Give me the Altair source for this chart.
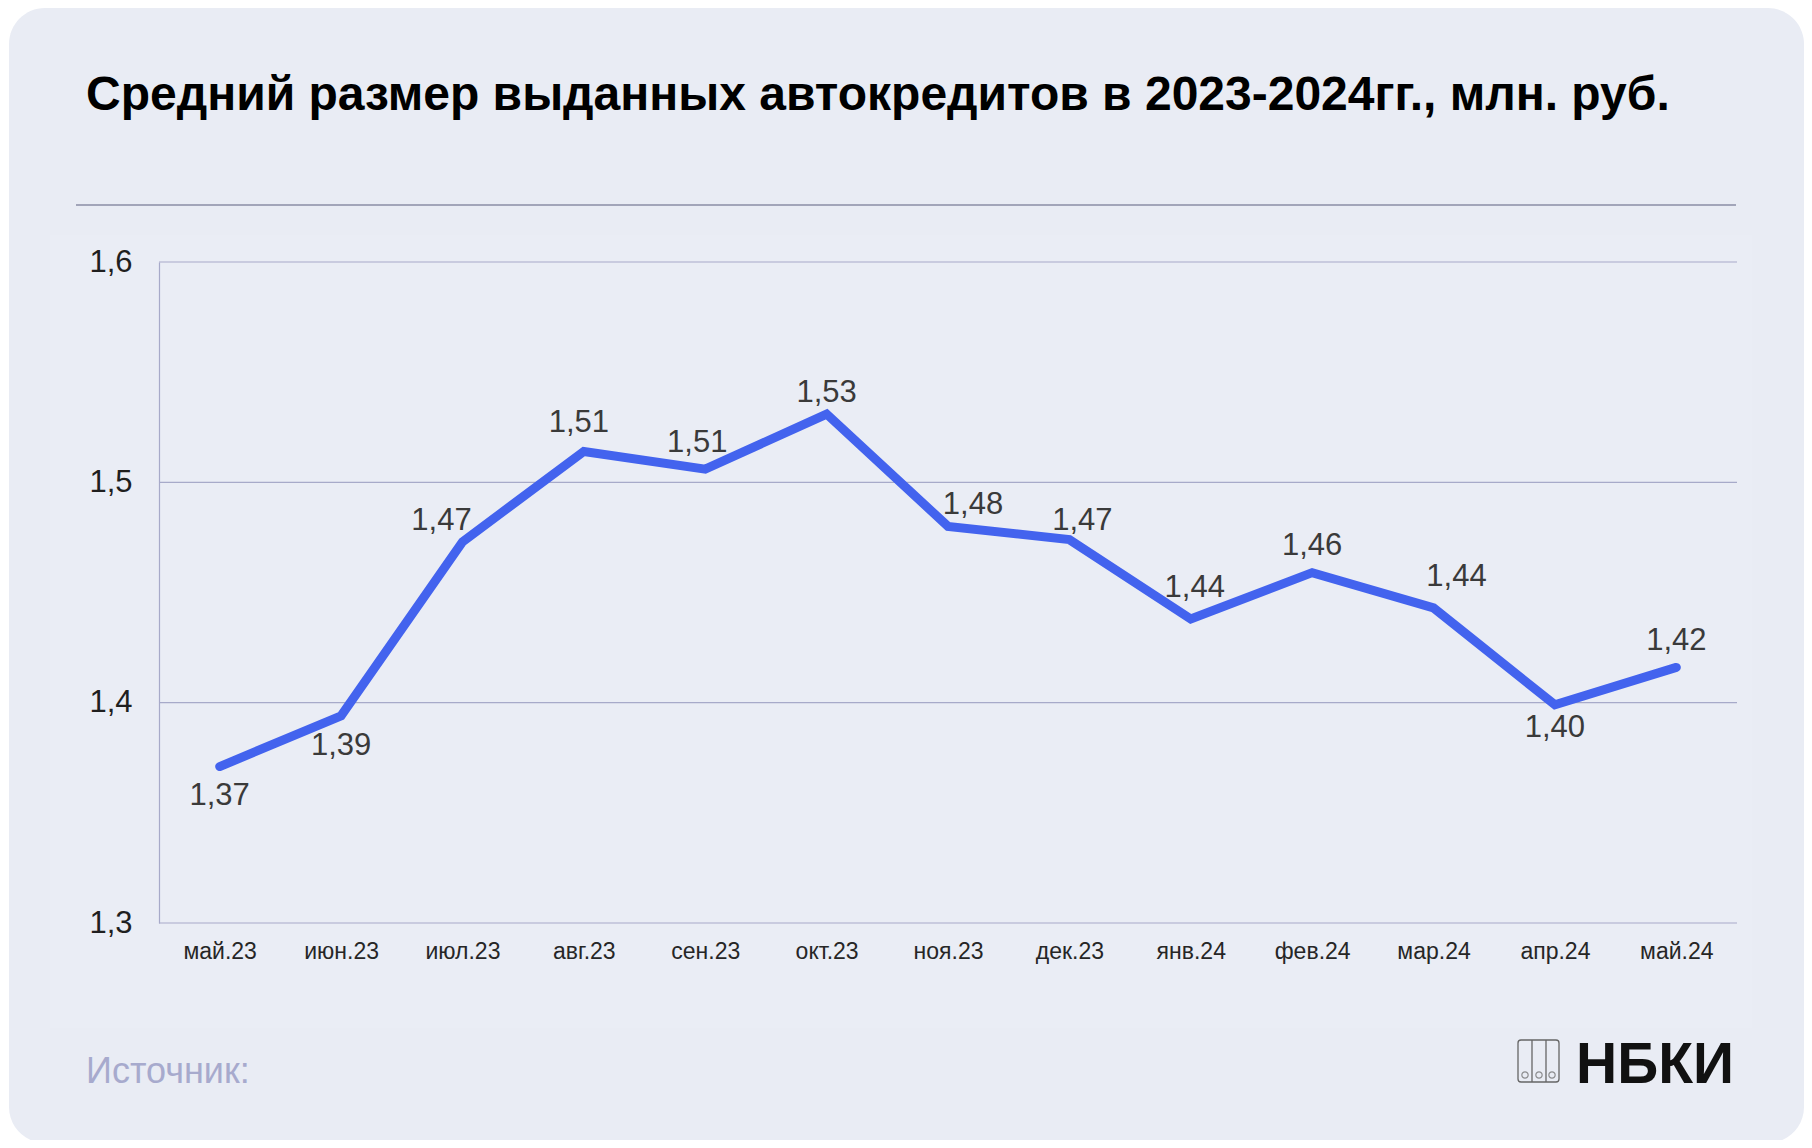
import altair as alt
import pandas as pd

# ---- data ----
months = ["май.23", "июн.23", "июл.23", "авг.23", "сен.23", "окт.23", "ноя.23",
          "дек.23", "янв.24", "фев.24", "мар.24", "апр.24", "май.24"]
values = [1.371, 1.394, 1.473, 1.514, 1.506, 1.531, 1.480,
          1.474, 1.438, 1.459, 1.443, 1.399, 1.416]
y_ticks = [1.3, 1.4, 1.5, 1.6]

# ---- label placement (style): pixel nudges of each value label from its point ----
label_dx = [0, 0, -21, -5, -8, 0, 25, 13, 4, 0, 23, 0, 0]
label_dy = [29, 30, -21, -28, -26, -21, -21, -19, -31, -27, -31, 23, -26]

title_text = "Средний размер выданных автокредитов в 2023-2024гг., млн. руб."
source_text = "Источник:"
brand_text = "НБКИ"

df = pd.DataFrame({"month": months, "value": values,
                   "ldx": label_dx, "ldy": label_dy})
df["label"] = [f"{v:.2f}".replace(".", ",") for v in values]
grid_df = pd.DataFrame({"tick": y_ticks})

one = pd.DataFrame({"k": [0]})

FONT = "Liberation Sans"
W, H = 1578, 661
CARD = "#e9ecf4"
PANEL = "#eaedf5"
GRID = "#a7aac9"
LINE = "#4363ee"

y_scale = alt.Scale(domain=[1.3, 1.6], nice=False, zero=False)

x_enc = alt.X(
    "month:N", sort=months,
    scale=alt.Scale(type="point", padding=0.5),
    axis=alt.Axis(title=None, labelAngle=0, domain=False, ticks=False, grid=False,
                  labelFont=FONT, labelFontSize=23, labelColor="#262626",
                  labelPadding=17, zindex=2),
)
y_enc = alt.Y(
    "value:Q", scale=y_scale,
    axis=alt.Axis(title=None, values=y_ticks, ticks=False, domain=True,
                  domainColor=GRID, domainWidth=1.2, grid=False,
                  labelFont=FONT, labelFontSize=31,
                  labelColor="#1f1f1f", labelPadding=27, zindex=2,
                  labelExpr="replace(format(datum.value, '.1f'), '.', ',')"),
)

card = alt.Chart(one).mark_rect(color=CARD, cornerRadius=36).encode(
    x=alt.value(-150), x2=alt.value(1645), y=alt.value(-254), y2=alt.value(881))
panel = alt.Chart(one).mark_rect(color=PANEL).encode(
    x=alt.value(-109), x2=alt.value(1593), y=alt.value(-27), y2=alt.value(766))

title = alt.Chart(one).mark_text(
    text=title_text, font=FONT, fontSize=48, fontWeight="bold", color="#000000",
    align="left", baseline="alphabetic").encode(x=alt.value(-73), y=alt.value(-152))
sep = alt.Chart(one).mark_rule(color="#8a8ea6", strokeWidth=1.5).encode(
    x=alt.value(-83), x2=alt.value(1577), y=alt.value(-57))

source = alt.Chart(one).mark_text(
    text=source_text, font=FONT, fontSize=36, color="#a7aacd",
    align="left", baseline="alphabetic").encode(x=alt.value(-73), y=alt.value(821))
brand = alt.Chart(one).mark_text(
    text=brand_text, font=FONT, fontSize=57, fontWeight="bold", color="#111111",
    align="left", baseline="alphabetic").encode(x=alt.value(1417), y=alt.value(821))

logo_box = alt.Chart(one).mark_rect(
    fill=None, stroke="#666666", strokeWidth=1.3, cornerRadius=3).encode(
    x=alt.value(1359), x2=alt.value(1400), y=alt.value(778), y2=alt.value(820))
logo_div1 = alt.Chart(one).mark_rule(color="#666666", strokeWidth=1.3).encode(
    x=alt.value(1373), y=alt.value(778), y2=alt.value(820))
logo_div2 = alt.Chart(one).mark_rule(color="#666666", strokeWidth=1.3).encode(
    x=alt.value(1387), y=alt.value(778), y2=alt.value(820))
logo_circles = [
    alt.Chart(one).mark_point(shape="circle", size=40, stroke="#666666",
                              strokeWidth=1.2, filled=False).encode(
        x=alt.value(cx), y=alt.value(813))
    for cx in (1366, 1380, 1393)
]

gridlines = alt.Chart(grid_df).mark_rule(color=GRID, strokeWidth=1.2).encode(
    y=alt.Y("tick:Q", scale=y_scale))

base = alt.Chart(df)
line = base.mark_line(color=LINE, strokeWidth=9, strokeCap="round",
                      strokeJoin="miter").encode(x=x_enc, y=y_enc)

label_layers = [
    base.transform_filter(alt.datum.ldy == int(d)).mark_text(
        font=FONT, fontSize=31, color="#3a3a3a", baseline="middle", dy=int(d)
    ).encode(
        x=alt.X("month:N", sort=months), y="value:Q", text="label:N",
        xOffset=alt.XOffset("ldx:Q", scale=None))
    for d in sorted(set(label_dy))
]

chart = alt.layer(
    card, panel, title, sep, source, brand,
    logo_box, logo_div1, logo_div2, *logo_circles,
    gridlines, line, *label_layers,
).properties(
    width=W, height=H,
    autosize=alt.AutoSizeParams(type="none"),
    padding={"left": 151, "top": 254, "right": 67, "bottom": 217},
    background="#ffffff",
).configure_view(stroke=None)

chart.save("out.html", embed_options={"renderer": "svg", "actions": False})
